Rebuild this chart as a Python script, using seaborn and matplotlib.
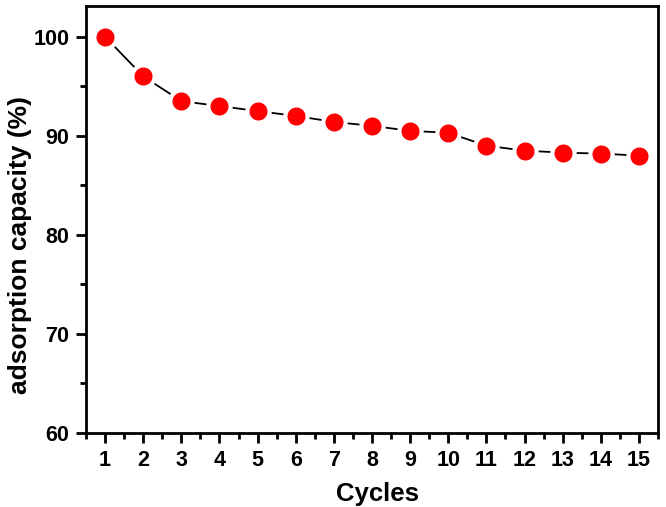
import seaborn as sns
import matplotlib.pyplot as plt
import pandas as pd
from matplotlib.ticker import MultipleLocator

cycles = list(range(1, 16))
capacity = [100.0, 96.0, 93.5, 93.0, 92.5, 92.0, 91.4, 91.0, 90.5, 90.3,
            89.0, 88.5, 88.3, 88.2, 88.0]

df = pd.DataFrame({"Cycles": cycles, "capacity": capacity})

sns.set_style("ticks")
plt.rcParams['font.family'] = ['Liberation Sans', 'DejaVu Sans']
plt.rcParams['font.weight'] = 'bold'

fig = plt.figure(figsize=(6.66, 5.07), dpi=100)
ax = fig.add_axes([86 / 666, 1 - 433 / 507, 572 / 666, 427 / 507])

sns.lineplot(data=df, x="Cycles", y="capacity", ax=ax, color="black", lw=1.3,
             marker="o", markersize=16, markerfacecolor="red",
             markeredgecolor="white", markeredgewidth=3)

ax.set_xlim(0.5, 15.5)
ax.set_ylim(60, 103.1)
ax.set_xticks(cycles)
ax.xaxis.set_minor_locator(MultipleLocator(0.5))
ax.yaxis.set_major_locator(MultipleLocator(10))
ax.yaxis.set_minor_locator(MultipleLocator(5))

for s in ax.spines.values():
    s.set_linewidth(2)
    s.set_color("black")
ax.tick_params(which="major", length=7, width=2, labelsize=15.5, direction="out",
               colors="black", pad=5)
ax.tick_params(which="minor", length=4, width=2, direction="out", colors="black")
for lab in ax.get_xticklabels() + ax.get_yticklabels():
    lab.set_fontweight("bold")

ax.set_xlabel("Cycles", fontsize=18.5, fontweight="bold", color="black")
ax.set_ylabel("adsorption capacity (%)", fontsize=19, fontweight="bold",
              color="black")
ax.xaxis.set_label_coords(0.509, -0.115)
ax.yaxis.set_label_coords(-0.095, 0.44)

fig.savefig("out.png", dpi=100)
